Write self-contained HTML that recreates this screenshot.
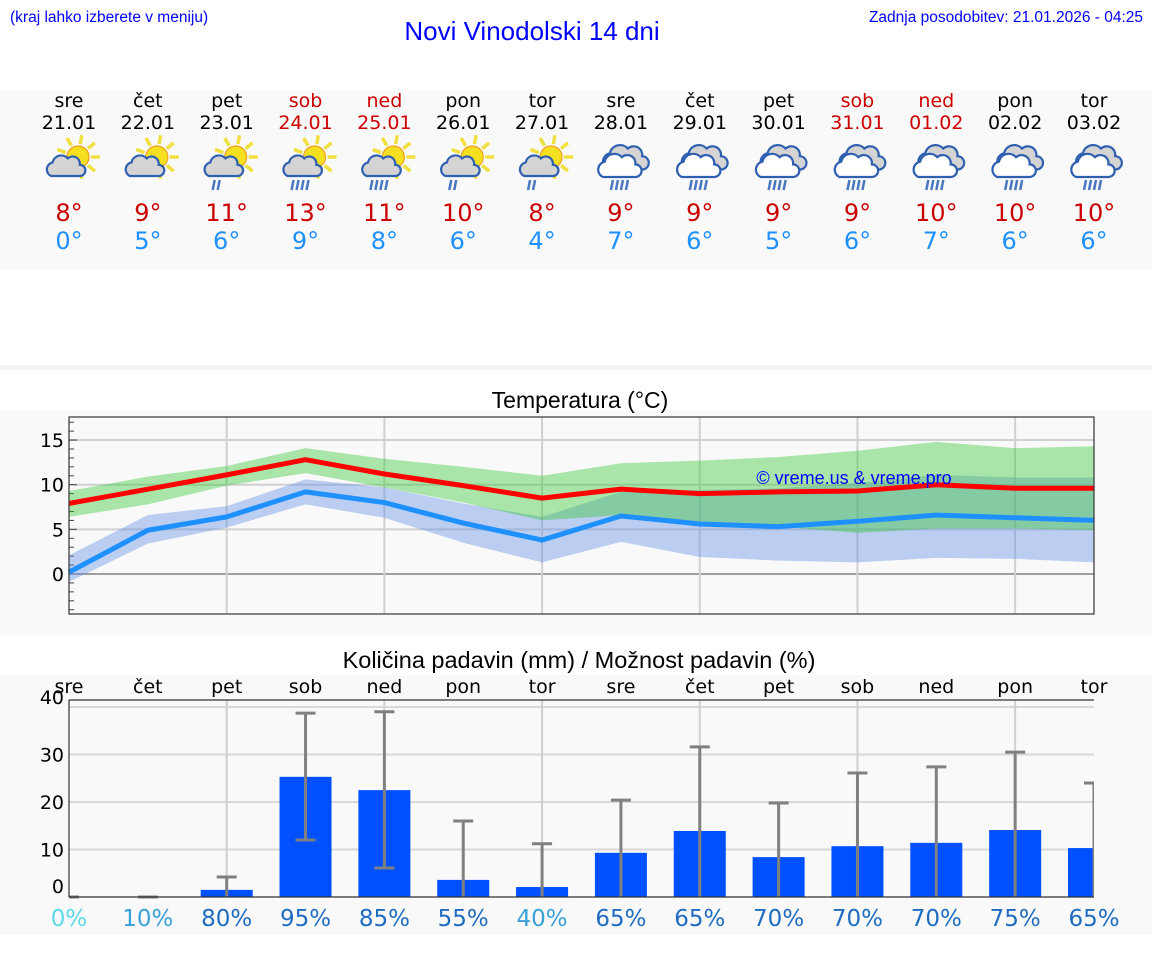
<!DOCTYPE html>
<html><head><meta charset="utf-8">
<style>
body{margin:0;width:1152px;height:975px;background:#fff;overflow:hidden;font-family:"DejaVu Sans","Liberation Sans",sans-serif;}
svg{position:absolute;left:0;top:0}
</style></head>
<body>
<svg id="root" width="1152" height="975" viewBox="0 0 1152 975" xmlns="http://www.w3.org/2000/svg">
  <rect x="0" y="90" width="1152" height="180" fill="#f9f9f9"/>
  <rect x="0" y="365" width="1152" height="5" fill="#f4f4f4"/>
  <rect x="0" y="410" width="1152" height="225" fill="#f9f9f9"/>
  <rect x="0" y="675" width="1152" height="260" fill="#f9f9f9"/>
  <text x="10" y="22" font-family="Liberation Sans, sans-serif" font-size="15.5" fill="#0000ff">(kraj lahko izberete v meniju)</text>
  <text x="532" y="40" text-anchor="middle" font-family="Liberation Sans, sans-serif" font-size="26" fill="#0000ff">Novi Vinodolski 14 dni</text>
  <text x="1143" y="22" text-anchor="end" font-family="Liberation Sans, sans-serif" font-size="15.5" fill="#0000ff">Zadnja posodobitev: 21.01.2026 - 04:25</text>
  <g id="header"></g>
  <text x="580" y="408" text-anchor="middle" font-family="Liberation Sans, sans-serif" font-size="23" fill="#000">Temperatura (°C)</text>
  <g id="temp"></g>
  <text x="579" y="668" text-anchor="middle" font-family="Liberation Sans, sans-serif" font-size="23.5" fill="#000">Količina padavin (mm) / Možnost padavin (%)</text>
  <g id="prec"></g>
</svg>
<script>
const days=["sre","čet","pet","sob","ned","pon","tor","sre","čet","pet","sob","ned","pon","tor"];
const dates=["21.01","22.01","23.01","24.01","25.01","26.01","27.01","28.01","29.01","30.01","31.01","01.02","02.02","03.02"];
const weekend=[0,0,0,1,1,0,0,0,0,0,1,1,0,0];
const iconType=[0,0,1,2,2,1,1,3,3,3,3,3,3,3];
const hiLabel=[8,9,11,13,11,10,8,9,9,9,9,10,10,10];
const loLabel=[0,5,6,9,8,6,4,7,6,5,6,7,6,6];

const tMax=[7.9,9.5,11.1,12.8,11.2,9.9,8.5,9.5,9.0,9.2,9.3,10.0,9.6,9.6];
const tMaxHi=[9.3,10.9,12.1,14.1,12.9,12.0,11.0,12.4,12.7,13.1,13.8,14.8,14.1,14.3];
const tMaxLo=[6.4,7.8,9.9,11.3,9.7,8.0,6.0,6.6,5.8,5.3,4.6,5.1,5.1,4.9];
const tMin=[0.2,4.9,6.4,9.2,8.0,5.7,3.8,6.5,5.6,5.3,5.9,6.6,6.3,6.0];
const tMinHi=[2.1,6.6,7.6,10.6,9.7,7.9,6.4,9.2,9.4,9.6,10.2,11.1,10.8,10.8];
const tMinLo=[-0.9,3.4,5.2,7.8,6.3,3.5,1.3,3.6,1.9,1.5,1.3,1.8,1.7,1.3];
const tTicks=[0,5,10,15];

const precip=[0,0,1.5,25.3,22.5,3.6,2.1,9.3,13.9,8.4,10.7,11.4,14.1,10.3];
const precipHi=[0,0,4.2,38.7,39,16,11.2,20.4,31.6,19.8,26.1,27.4,30.5,24.0];
const precipLo=[0,0,0,12,6.1,0,0,0,0,0,0,0,0,0];
const chance=[0,10,80,95,85,55,40,65,65,70,70,70,75,65];
const pTicks=[0,10,20,30,40];

const NS="http://www.w3.org/2000/svg";
function mk(tag,attrs,parent,txt){const e=document.createElementNS(NS,tag);for(const k in attrs)e.setAttribute(k,attrs[k]);if(txt!==undefined)e.textContent=txt;parent.appendChild(e);return e;}
const X0=69,X1=1094;
function xs(i){return X0+(X1-X0)*i/13;}

// header
const hg=document.getElementById('header');
function cloud(g,cx,cy,s,fill){
  const p=`M${cx-20*s},${cy+10*s} a${9*s},${9*s} 0 0 1 ${2*s},${-17*s} a${11*s},${11*s} 0 0 1 ${19*s},${-5*s} a${9*s},${9*s} 0 0 1 ${15*s},${8*s} a${7*s},${7*s} 0 0 1 ${0},${14*s} z`;
  mk('path',{d:p,fill:fill,stroke:'#2f5fb0','stroke-width':2.2},g);
}
function sun(g,cx,cy){
  for(let a=0;a<360;a+=40){const r=a*Math.PI/180;mk('line',{x1:cx+Math.cos(r)*13,y1:cy+Math.sin(r)*13,x2:cx+Math.cos(r)*22,y2:cy+Math.sin(r)*22,stroke:'#f0e040','stroke-width':3.5},g);}
  mk('circle',{cx:cx,cy:cy,r:11,fill:'#f5e020',stroke:'#f0a020','stroke-width':1.2},g);
}
function rain(g,cx,y,n){for(let k=0;k<n;k++){mk('line',{x1:cx-8+k*5+2,y1:y,x2:cx-8+k*5,y2:y+10,stroke:'#4a78c0','stroke-width':2.5},g);}}
days.forEach((d,i)=>{
  const x=xs(i);const col=weekend[i]?'#cc0000':'#000';
  const g=mk('g',{},hg);
  
  
  const t1=mk('text',{x:x,y:107,'text-anchor':'middle','font-size':19,fill:col},g,d);
  
  
  const t2=mk('text',{x:x,y:129,'text-anchor':'middle','font-size':19,fill:col},g,dates[i]);
  
  
  const ic=mk('g',{},g);
  
  
  const ty=iconType[i];
  if(ty<3){sun(ic,x+9,157);cloud(ic,x-2,168,0.8,'#d4d4d4');if(ty==1)rain(ic,x-6,180,2);if(ty==2)rain(ic,x-6,180,4);}
  else{cloud(ic,x+6,160,0.95,'#d4d4d4');cloud(ic,x,168,0.9,'#fff');rain(ic,x-2,180,4);}
  const t3=mk('text',{x:x,y:221,'text-anchor':'middle','font-size':24,fill:'#cc0000'},g,hiLabel[i]+'°');
  
  
  const t4=mk('text',{x:x,y:249,'text-anchor':'middle','font-size':24,fill:'#1e90ff'},g,loLabel[i]+'°');
  
  
});

// temperature chart
const tg=document.getElementById('temp');
const TY0=574,TK=8.93;
function ty(v){return TY0-TK*v;}
mk('rect',{x:X0,y:417,width:X1-X0,height:197,fill:'#f9f9f9'},tg);
tTicks.forEach(v=>{
  const l=mk('line',{x1:X0,x2:X1,y1:ty(v),y2:ty(v),stroke:v==0?'#444':'#d0d0d0','stroke-width':v==0?1:2},tg);
  
  
  const t=mk('text',{x:64,y:ty(v)+7,'text-anchor':'end','font-size':19,fill:'#000'},tg,String(v));
  
  
});
for(let v=-4;v<=17;v++){mk('line',{x1:X0,x2:X0+(v%5==0?8:5),y1:ty(v),y2:ty(v),stroke:'#444','stroke-width':1},tg);}
for(let i=2;i<14;i+=2){mk('line',{x1:xs(i),x2:xs(i),y1:417,y2:614,stroke:'#d0d0d0','stroke-width':2},tg);}
function band(lo,hi,fill,name){
  let d='M'+lo.map((v,i)=>xs(i)+','+ty(v)).join(' L');
  d+=' L'+hi.map((v,i)=>xs(i)+','+ty(v)).reverse().join(' L')+' Z';
  const p=mk('path',{d:d,fill:fill,'fill-opacity':0.4},tg);
  
  
}
function line(vals,col,name){
  const p=mk('polyline',{points:vals.map((v,i)=>xs(i)+','+ty(v)).join(' '),fill:'none',stroke:col,'stroke-width':5,'stroke-linejoin':'round'},tg);
  
  
}
band(tMinLo,tMinHi,'#5f8fe6','min-temp-range');
band(tMaxLo,tMaxHi,'#32c832','max-temp-range');
line(tMin,'#1e90ff','min-temp-line');
line(tMax,'#ff0000','max-temp-line');
const wm=mk('text',{x:854,y:484,'text-anchor':'middle','font-family':'Liberation Sans, sans-serif','font-size':18,fill:'#0000ff'},tg,'© vreme.us & vreme.pro');


mk('rect',{x:X0,y:417,width:X1-X0,height:197,fill:'none',stroke:'#333','stroke-width':1.2},tg);

// precipitation chart
const pg=document.getElementById('prec');
const PY0=897,PK=4.75;
function py(v){return PY0-PK*v;}
mk('rect',{x:X0,y:700,width:X1-X0,height:197,fill:'#f9f9f9'},pg);
pTicks.forEach(v=>{
  if(v>0){const l=mk('line',{x1:X0,x2:X1,y1:py(v),y2:py(v),stroke:'#d8d8d8','stroke-width':2},pg);
  
  }
  const yy=v==0?py(v)-4:(v==40?py(v)-3:py(v)+7);
  const t=mk('text',{x:64,y:yy,'text-anchor':'end','font-size':19,fill:'#000'},pg,String(v));
  
  
});
for(let i=2;i<14;i+=2){mk('line',{x1:xs(i),x2:xs(i),y1:700,y2:897,stroke:'#d0d0d0','stroke-width':2},pg);}
days.forEach((d,i)=>{
  const t=mk('text',{x:xs(i),y:693,'text-anchor':'middle','font-size':19,fill:'#000'},pg,d);
  
  
});
const clip=mk('clipPath',{id:'pc'},pg);mk('rect',{x:X0,y:690,width:X1-X0,height:210},clip);
const inner=mk('g',{'clip-path':'url(#pc)'},pg);
precip.forEach((v,i)=>{
  const x=xs(i);
  const b=mk('rect',{x:x-26,y:py(v),width:52,height:PY0-py(v),fill:'#0050ff'},inner);
  
  
  const e=mk('g',{stroke:'#808080','stroke-width':3},inner);
  
  
  mk('line',{x1:x,x2:x,y1:py(precipHi[i]),y2:py(precipLo[i])},e);
  mk('line',{x1:x-10,x2:x+10,y1:py(precipHi[i]),y2:py(precipHi[i])},e);
  if(precipLo[i]>0)mk('line',{x1:x-10,x2:x+10,y1:py(precipLo[i]),y2:py(precipLo[i])},e);
});
mk('line',{x1:X0,x2:X0,y1:700,y2:897,stroke:'#333','stroke-width':1.2},pg);
mk('line',{x1:X0,x2:X1,y1:700,y2:700,stroke:'#333','stroke-width':1.2},pg);
mk('line',{x1:X0,x2:X1,y1:897,y2:897,stroke:'#333','stroke-width':1.2},pg);
chance.forEach((c,i)=>{
  const col=c<=0?'#5bd8e8':(c<=40?'#3aa0d8':'#1f6cc0');
  const t=mk('text',{x:xs(i),y:926,'text-anchor':'middle','font-size':23,fill:col},pg,c+'%');
  
  
});
</script>
</body></html>
